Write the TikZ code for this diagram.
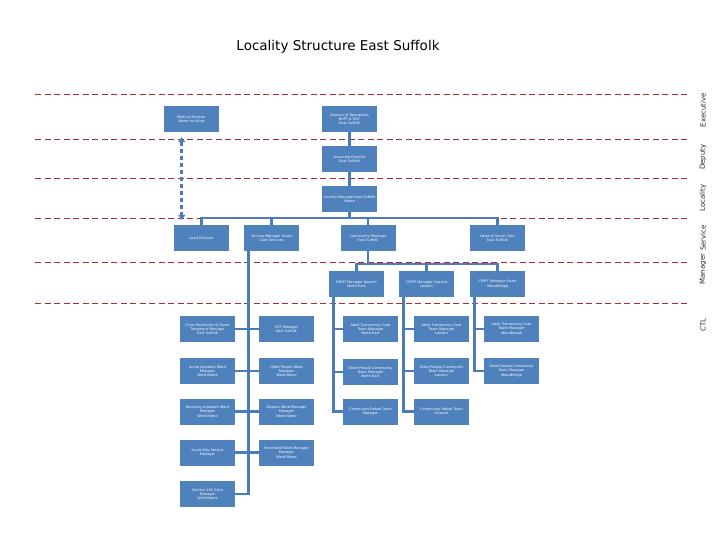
\documentclass[tikz,border=0pt]{standalone}
\usepackage{fontspec}
\setmainfont{DejaVu Sans}
\usetikzlibrary{arrows.meta}

\definecolor{boxblue}{RGB}{79,129,189}
\definecolor{lineblue}{RGB}{74,124,186}
\definecolor{bandred}{RGB}{176,40,52}

\tikzset{
  post/.style={fill=boxblue, text=white, minimum width=55pt, minimum height=26pt,
    inner sep=0pt, align=center, font=\fontsize{3.5}{4.3}\selectfont},
  link/.style={lineblue, line width=2.6pt},
  band/.style={bandred, line width=1pt, dash pattern=on 6pt off 3.5pt},
  tier/.style={rotate=90, font=\fontsize{7}{8}\selectfont, text=black!85},
  dotlink/.style={lineblue, line width=3pt, dash pattern=on 4.5pt off 2.5pt,
    {Triangle[length=5pt,width=7pt]}-{Triangle[length=5pt,width=7pt]}}
}

\begin{document}
\begin{tikzpicture}[x=1pt,y=-1pt]
\useasboundingbox (0,0) rectangle (720,540);

\node[font=\fontsize{13.5}{16}\selectfont] (title) at (338,47) {Locality Structure East Suffolk};

% tier lines
\foreach \y in {95,140,179,219,262,303}
  \draw[band] (35,\y) -- (690,\y);

% tier names
\node[tier] (executive) at (703,110) {Executive};
\node[tier] (deputy) at (703,157) {Deputy};
\node[tier] (locality) at (703,198) {Locality};
\node[tier] (service) at (703,238) {Service};
\node[tier] (manager) at (703,269) {Manager};
\node[tier] (ctl) at (703,325) {CTL};

% executive, deputy, locality
\node[post] (medd) at (191.5,119) {Medical Director\\Name to follow};
\node[post] (dops) at (349.5,119) {Director of Operations\\NSFT \& HSC\\East Suffolk};
\node[post] (assoc) at (349.5,159) {Associate Director\\East Suffolk};
\node[post] (locm) at (349.5,199) {Locality Manager East Suffolk\\Name};

% service
\node[post] (lead) at (201.5,238) {Lead Clinician};
\node[post] (smgr) at (271.5,238) {Service Manager Acute\\Care Services};
\node[post] (cmgr) at (368,238) {Community Manager\\East Suffolk};
\node[post] (hsoc) at (497.5,238) {Head of Social Care\\East Suffolk};

% manager
\node[post] (mgra) at (356.5,284) {CMHT Manager Ipswich\\North East};
\node[post] (mgrb) at (426.5,284) {CMHT Manager Coastal\\Leiston};
\node[post] (mgrc) at (497.5,284) {CMHT Manager South\\Woodbridge};

% CTL
\node[post] (a1) at (207.5,329) {Crisis Resolution \& Home\\Treatment Manager\\East Suffolk};
\node[post] (a2) at (207.5,371) {Acute Inpatient Ward\\Manager\\Ward Name};
\node[post] (a3) at (207.5,411.5) {Recovery Inpatient Ward\\Manager\\Ward Name};
\node[post] (a4) at (207.5,452.5) {Acute Day Service\\Manager};
\node[post] (a5) at (207.5,494) {Section 136 Suite\\Manager\\Ward Name};
\node[post] (b1) at (286.5,329) {CRT Manager\\East Suffolk};
\node[post] (b2) at (286.5,371) {Older People Ward\\Manager\\Ward Name};
\node[post] (b3) at (286.5,411.5) {Organic Ward Manager\\Manager\\Ward Name};
\node[post] (b4) at (286.5,452.5) {Functional Ward Manager\\Manager\\Ward Name};
\node[post] (c1) at (370.5,329) {Adult Community Care\\Team Manager\\North East};
\node[post] (c2) at (370.5,372) {Older People Community\\Team Manager\\North East};
\node[post] (c3) at (370.5,411.5) {Community Rehab Team\\Manager};
\node[post] (d1) at (441.5,329) {Adult Community Care\\Team Manager\\Leiston};
\node[post] (d2) at (441.5,371) {Older People Community\\Team Manager\\Leiston};
\node[post] (d3) at (441.5,411.5) {Community Rehab Team\\Coastal};
\node[post] (e1) at (511.5,329) {Adult Community Care\\Team Manager\\Woodbridge};
\node[post] (e2) at (511.5,371) {Older People Community\\Team Manager\\Woodbridge};

% top of the tree
\draw[link] (dops) -- (assoc);
\draw[link] (assoc) -- (locm);
\coordinate (sbar) at (0,218);
\draw[link] (locm.south) -- (locm.south |- sbar);
\draw[link] (lead.north) |- (hsoc.north |- sbar) -- (hsoc.north);
\draw[link] (smgr.north) -- (smgr.north |- sbar);
\draw[link] (cmgr.north) -- (cmgr.north |- sbar);
\draw[dotlink, shorten <=5pt, shorten >=5pt] ([xshift=18pt]medd.south west) -- ([xshift=18pt]medd.south west |- lead.north);

% community managers
\coordinate (mbar) at (0,264);
\draw[link] (cmgr.south) -- (cmgr.south |- mbar);
\draw[link] (mgra.north) |- (mgrc.north |- mbar) -- (mgrc.north);
\draw[link] (mgrb.north) -- (mgrb.north |- mbar);

% acute trunk
\coordinate (ts) at ([xshift=4.5pt]smgr.south west);
\draw[link] (ts) |- (a5.east);
\foreach \n in {1,...,4}
  \draw[link] (a\n.east) -- (b\n.west);

% community trunks
\coordinate (tc) at ([xshift=4.5pt]mgra.south west);
\coordinate (td) at ([xshift=4.5pt]mgrb.south west);
\coordinate (te) at ([xshift=4.5pt]mgrc.south west);
\draw[link] (tc) |- (c3.west);
\draw[link] (td) |- (d3.west);
\draw[link] (te) |- (e2.west);
\foreach \n in {1,2}
  \draw[link] (c\n.west) -- (c\n.west -| tc);
\foreach \n in {1,2}
  \draw[link] (d\n.west) -- (d\n.west -| td);
\draw[link] (e1.west) -- (e1.west -| te);
\end{tikzpicture}
\end{document}
